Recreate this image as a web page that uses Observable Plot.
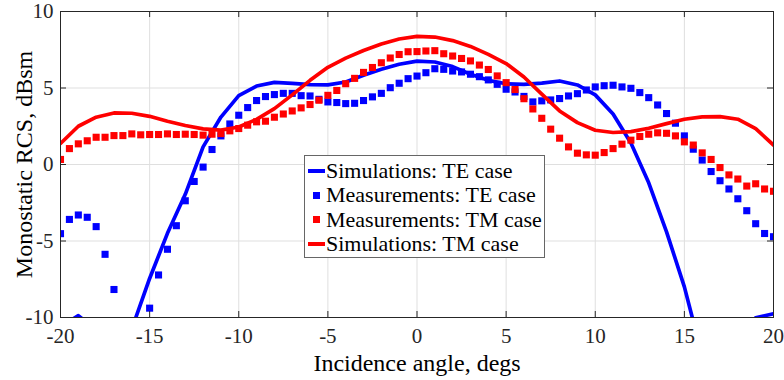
<!DOCTYPE html>
<html><head><meta charset="utf-8">
<script src="https://cdn.jsdelivr.net/npm/d3@7"></script>
<script src="https://cdn.jsdelivr.net/npm/@observablehq/plot@0.6"></script>
<style>
body{margin:0;background:#fff;}
#wrap{position:relative;width:784px;height:380px;font-family:"Liberation Serif",serif;}
#legend{position:absolute;left:304px;top:155px;width:241px;height:103px;border:1px solid #666;background:#fff;box-sizing:border-box;font-family:"Liberation Serif",serif;font-size:22px;color:#000;}
.row{position:absolute;left:0;height:25px;width:239px;}
.row span.t{position:absolute;left:21px;top:0;line-height:24.7px;white-space:nowrap;}
.ln{position:absolute;left:3px;top:10px;width:17px;height:4px;}
.sq{position:absolute;left:8px;top:8.5px;width:7px;height:7px;}
</style></head>
<body>
<div id="wrap"></div>
<script>
const measAngles = [-20,-19.5,-19,-18.5,-18,-17.5,-17,-16.5,-16,-15.5,-15,-14.5,-14,-13.5,-13,-12.5,-12,-11.5,-11,-10.5,-10,-9.5,-9,-8.5,-8,-7.5,-7,-6.5,-6,-5.5,-5,-4.5,-4,-3.5,-3,-2.5,-2,-1.5,-1,-0.5,0,0.5,1,1.5,2,2.5,3,3.5,4,4.5,5,5.5,6,6.5,7,7.5,8,8.5,9,9.5,10,10.5,11,11.5,12,12.5,13,13.5,14,14.5,15,15.5,16,16.5,17,17.5,18,18.5,19,19.5,20];
const measTE = [-4.52,-3.59,-3.30,-3.45,-4.06,-5.87,-8.17,null,null,null,-9.39,-7.22,-5.54,-4.0,-2.37,-1.11,-0.17,0.98,1.87,2.65,3.22,3.72,4.18,4.44,4.57,4.65,4.65,4.5,4.48,4.26,4.09,4.05,3.98,4.0,4.18,4.42,4.65,5.02,5.31,5.61,5.78,6.0,6.26,6.22,6.11,6.05,5.9,5.74,5.53,5.24,4.92,4.74,4.45,4.09,4.16,4.22,4.31,4.48,4.63,4.87,5.07,5.15,5.18,5.07,4.98,4.7,4.37,3.89,3.33,2.7,1.87,1.0,0.29,-0.46,-1.06,-1.6,-2.24,-3.02,-3.87,-4.51,-4.72];
const measTM = [0.33,1.04,1.35,1.55,1.78,1.78,1.89,1.89,2.0,1.94,1.96,1.96,2.0,1.96,1.98,1.96,1.92,1.98,2.02,2.20,2.35,2.57,2.79,2.83,3.09,3.3,3.5,3.7,3.92,4.2,4.52,4.84,5.28,5.63,6.02,6.34,6.65,6.96,7.19,7.37,7.38,7.42,7.44,7.24,7.09,6.93,6.77,6.5,6.21,5.79,5.35,4.9,4.3,3.63,3.02,2.31,1.72,1.15,0.74,0.63,0.61,0.78,1.04,1.33,1.59,1.83,1.98,2.07,2.04,1.87,1.48,1.27,0.76,0.33,-0.2,-0.68,-0.95,-1.41,-1.26,-1.6,-1.75];
const simAngles = [-20,-19,-18,-17,-16,-15,-14,-13,-12,-11,-10,-9,-8,-7,-6,-5,-4,-3,-2,-1,0,1,2,3,4,5,6,7,8,9,10,11,12,13,14,15,16,17,18,19,20];
const simTE = [-10.6,-9.88,-10.8,-12.5,-10.75,-7.45,-4.5,-1.95,1.15,3.1,4.5,5.13,5.37,5.3,5.22,5.2,5.39,5.83,6.22,6.55,6.76,6.7,6.4,5.9,5.5,5.28,5.24,5.32,5.46,5.2,4.55,3.3,1.4,-1.2,-4.4,-8.0,-12.5,-14,-12.5,-10.02,-9.75];
const simTM = [1.37,2.5,3.09,3.37,3.35,3.15,2.83,2.55,2.33,2.25,2.45,2.95,3.65,4.55,5.5,6.35,6.95,7.45,7.88,8.2,8.37,8.33,8.1,7.72,7.2,6.6,5.72,4.6,3.5,2.74,2.24,2.09,2.15,2.37,2.67,2.96,3.11,3.13,2.96,2.35,1.27];
const xTicks = [-20,-15,-10,-5,0,5,10,15,20];
const yTicks = [-10,-5,0,5,10];
const seriesNames = ["Simulations: TE case","Measurements: TE case","Measurements: TM case","Simulations: TM case"];
const xLabel = "Incidence angle, degs";
const yLabel = "Monostatic RCS, dBsm";

const meas = measAngles.map((a,i)=>({a, te: measTE[i], tm: measTM[i]}));
const simTEd = simAngles.map((a,i)=>({a, v: simTE[i]}));
const simTMd = simAngles.map((a,i)=>({a, v: simTM[i]}));
const BLUE = "#0000ff", RED = "#ff0000", AX = "#262626";
const FONT = "'Liberation Serif', serif";
const W = 784, H = 380, ML = 60, MR = 11, MT = 11, MB = 63;
const fw = W - ML - MR, fh = H - MT - MB, tk = 6;
const fmt = d => String(d);

const chart = Plot.plot({
  width: W, height: H, marginLeft: ML, marginRight: MR, marginTop: MT, marginBottom: MB,
  x: {domain: [-20, 20]},
  y: {domain: [-10, 10]},
  style: {fontFamily: FONT, fontSize: "21px", color: AX, background: "#fff"},
  marks: [
    Plot.ruleX(xTicks, {x: d => d, stroke: "#dfdfdf", strokeWidth: 1}),
    Plot.ruleY(yTicks, {y: d => d, stroke: "#dfdfdf", strokeWidth: 1}),
    Plot.line(simTEd, {x: "a", y: "v", stroke: BLUE, strokeWidth: 3.7, clip: true}),
    Plot.dot(meas.filter(d => d.te != null), {x: "a", y: "te", symbol: "square", r: 4, fill: BLUE, stroke: null, clip: true}),
    Plot.dot(meas, {x: "a", y: "tm", symbol: "square", r: 4, fill: RED, stroke: null, clip: true}),
    Plot.line(simTMd, {x: "a", y: "v", stroke: RED, strokeWidth: 3.7, clip: true}),
    Plot.ruleX(xTicks, {x: d => d, stroke: AX, insetTop: fh - tk}),
    Plot.ruleX(xTicks, {x: d => d, stroke: AX, insetBottom: fh - tk}),
    Plot.ruleY(yTicks, {y: d => d, stroke: AX, insetRight: fw - tk}),
    Plot.ruleY(yTicks, {y: d => d, stroke: AX, insetLeft: fw - tk}),
    Plot.frame({stroke: AX, strokeWidth: 1}),
    Plot.axisX(xTicks, {anchor: "bottom", tickSize: 0, tickPadding: 11, tickFormat: fmt, label: null, fill: AX, fontSize: 21, fontFamily: FONT}),
    Plot.axisY(yTicks, {anchor: "left", tickSize: 0, tickPadding: 7, tickFormat: fmt, label: null, fill: AX, fontSize: 21, fontFamily: FONT}),
    Plot.text([xLabel], {text: d => d, frameAnchor: "bottom", textAnchor: "middle", lineAnchor: "middle", dy: 46, fontSize: 24, fontFamily: FONT, fill: "#000"}),
    Plot.text([yLabel], {text: d => d, frameAnchor: "left", textAnchor: "middle", lineAnchor: "middle", rotate: -90, dx: -36, fontSize: 24, fontFamily: FONT, fill: "#000"})
  ]
});
const wrap = document.getElementById("wrap");
wrap.appendChild(chart);

const legend = document.createElement("div");
legend.id = "legend";
const kinds = ["line","sq","sq","line"];
const cols = [BLUE, BLUE, RED, RED];
const tops = [2.5, 27.2, 51.5, 76.3];
seriesNames.forEach((name, i) => {
  const row = document.createElement("div");
  row.className = "row";
  row.style.top = tops[i] + "px";
  const sym = document.createElement("div");
  sym.className = kinds[i] === "line" ? "ln" : "sq";
  sym.style.background = cols[i];
  row.appendChild(sym);
  const t = document.createElement("span");
  t.className = "t";
  t.textContent = name;
  row.appendChild(t);
  legend.appendChild(row);
});
wrap.appendChild(legend);
</script>
</body></html>
